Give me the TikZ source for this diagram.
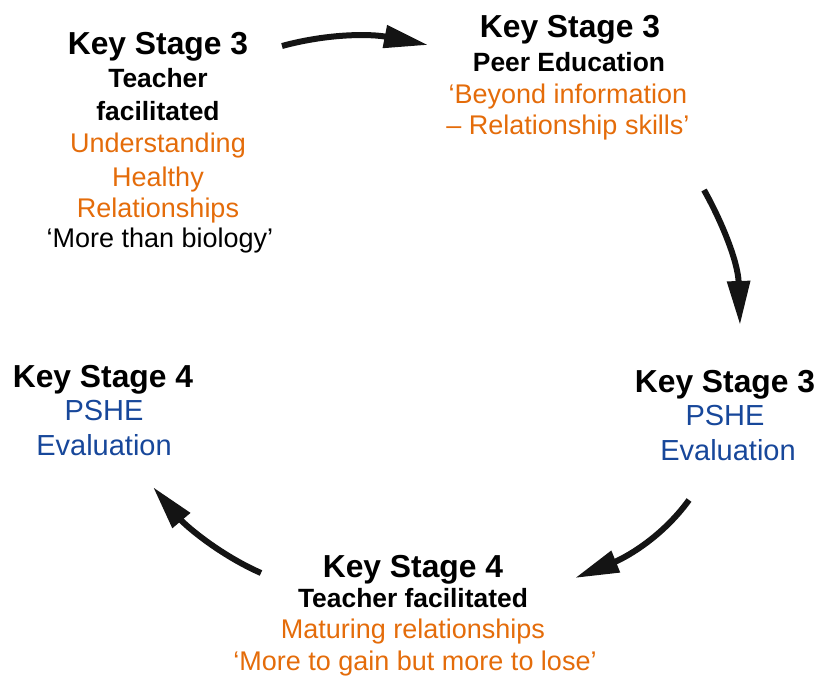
\documentclass[tikz,border=0pt]{standalone}
\usepackage{fontspec}
\setmainfont{Liberation Sans}
\usetikzlibrary{arrows.meta}
\definecolor{stageorange}{HTML}{E46C0A}
\definecolor{stageblue}{HTML}{17479A}
\definecolor{arrowblack}{HTML}{141414}
\begin{document}
\begin{tikzpicture}[x=1pt,y=-1pt,
  ln/.style={anchor=base,inner sep=0pt},
  stage/.style={ln,font=\fontsize{31.8}{36}\selectfont\bfseries},
  sub/.style={ln,font=\fontsize{26.4}{30}\selectfont\bfseries},
  orangetxt/.style={ln,text=stageorange,font=\fontsize{27}{31}\selectfont},
  plaintxt/.style={ln,font=\fontsize{27}{31}\selectfont},
  bluetxt/.style={ln,text=stageblue,font=\fontsize{29}{34}\selectfont},
  cycle/.style={line width=6pt,draw=arrowblack,
    -{Triangle[length=44pt,width=22pt]}}]
\useasboundingbox (0,0) rectangle (817,677);

% top left block
\node[stage] (a1) at (158,55) {Key Stage 3};
\node[sub] (a2) at (158,88) {Teacher};
\node[sub] (a3) at (158,121) {facilitated};
\node[orangetxt] (a4) at (158,152) {Understanding};
\node[orangetxt] (a5) at (158,186) {Healthy};
\node[orangetxt] (a6) at (158,217) {Relationships};
\node[plaintxt] (a7) at (160,247) {‘More than biology’};

% top right block
\node[stage] (b1) at (570,38) {Key Stage 3};
\node[sub] (b2) at (569,71) {Peer Education};
\node[orangetxt] (b3) at (568,103) {‘Beyond information};
\node[orangetxt] (b4) at (568,134) {– Relationship skills’};

% right block
\node[stage] (c1) at (725,392) {Key Stage 3};
\node[bluetxt] (c2) at (725,425) {PSHE};
\node[bluetxt] (c3) at (728,460) {Evaluation};

% left block
\node[stage] (d1) at (103,387) {Key Stage 4};
\node[bluetxt] (d2) at (104,420) {PSHE};
\node[bluetxt] (d3) at (104,455) {Evaluation};

% bottom block
\node[stage] (e1) at (413,577) {Key Stage 4};
\node[sub] (e2) at (413,607) {Teacher facilitated};
\node[orangetxt] (e3) at (413,638) {Maturing relationships};
\node[orangetxt] (e4) at (415,670) {‘More to gain but more to lose’};

% cycle arrows
\coordinate (t1) at (282,46);  \coordinate (h1) at (428,45);
\coordinate (t2) at (704,190); \coordinate (h2) at (740,325);
\coordinate (t3) at (689,500); \coordinate (h3) at (575,578);
\coordinate (t4) at (261,573); \coordinate (h4) at (153,487);
\draw[cycle] (t1) .. controls (330,33) and (372,34) .. (h1);
\draw[cycle] (t2) .. controls (722,222) and (738,262) .. (h2);
\draw[cycle] (t3) .. controls (660,540) and (622,559) .. (h3);
\draw[cycle] (t4) .. controls (220,555) and (186,526) .. (h4);
\end{tikzpicture}
\end{document}
